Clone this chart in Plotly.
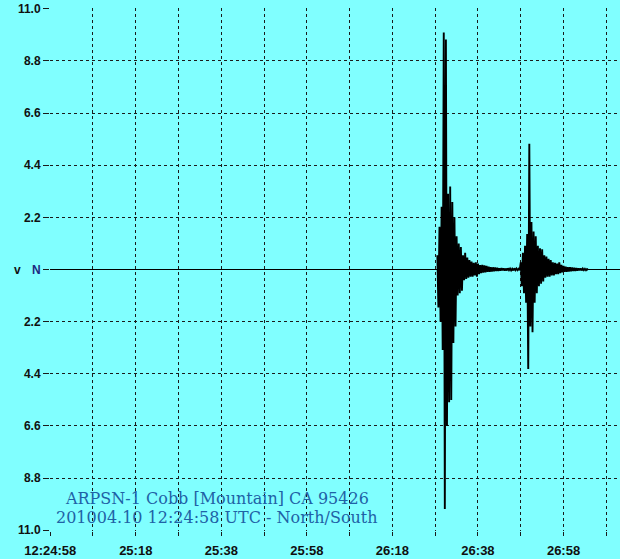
import plotly.graph_objects as go

# ---- data ----
# time axis in seconds after 12:24:58 UTC
x_tick_seconds = [0, 10, 20, 30, 40, 50, 60, 70, 80, 90, 100, 110, 120, 130]
x_tick_labels = ["12:24:58", "", "25:18", "", "25:38", "", "25:58", "", "26:18", "", "26:38", "", "26:58", ""]
y_tick_values = [11.0, 8.8, 6.6, 4.4, 2.2, 0.0, -2.2, -4.4, -6.6, -8.8, -11.0]
y_tick_labels = ["11.0", "8.8", "6.6", "4.4", "2.2", "<span style='color:#1c2a80'>N</span>",
                 "2.2", "4.4", "6.6", "8.8", "11.0"]

sample_interval = 0.25          # s between samples
record_end = 133.2              # s shown on the chart

# quiet trace before the first arrival (start, end) in seconds
quiet_before = [0.0, 90.25]
# first burst, samples starting at 90.5 s
burst1_start = 90.5
burst1_values = [0.6, -1.6, 1.8, -2.2, 2.65, -3.4, 10.0, -10.1, 9.7, -6.6,
                 3.2, -5.6, 3.5, -5.5, 2.85, -3.1, 2.2, -2.4, 1.4, -1.1,
                 1.1, -1.0, 0.95, -0.9, 0.6, -0.45, 0.7, -0.4, 0.5, -0.35,
                 0.4, -0.3, 0.33, -0.3, 0.28, -0.25, 0.3, -0.3, 0.25, -0.2,
                 0.18, -0.15, 0.2, -0.13, 0.17, -0.12, 0.15, -0.1, 0.12, -0.1,
                 0.1, -0.08, 0.09, -0.07, 0.08, -0.06, 0.07, -0.06, 0.05, -0.05,
                 0.06, -0.04, 0.05, -0.05, 0.04, -0.04, 0.05, -0.03, 0.04, -0.04,
                 0.03, -0.04, 0.05, -0.03, 0.04, -0.03, 0.03, -0.03]
# second burst, samples starting at 110.0 s
burst2_start = 110.0
burst2_values = [0.3, -0.7, 0.7, -1.0, 1.0, -1.4, 1.5, -4.2, 5.3, -2.4,
                 2.0, -2.65, 1.6, -1.4, 1.4, -1.0, 1.0, -0.7, 0.9, -0.6,
                 0.85, -0.5, 0.6, -0.35, 0.55, -0.3, 0.45, -0.3, 0.4, -0.25,
                 0.3, -0.25, 0.28, -0.2, 0.25, -0.2, 0.3, -0.15, 0.2, -0.12,
                 0.15, -0.1, 0.12, -0.1, 0.1, -0.08, 0.1, -0.07, 0.08, -0.06,
                 0.07, -0.06, 0.06, -0.05, 0.05, -0.04, 0.05, -0.04, 0.04, -0.03,
                 0.03, -0.03, 0.02, -0.02]

title_line1 = "ARPSN-1 Cobb [Mountain] CA 95426"
title_line2 = "201004.10 12:24:58 UTC - North/South"

# ---- assemble traces ----
b1_x = [burst1_start + i * sample_interval for i in range(len(burst1_values))]
b2_x = [burst2_start + i * sample_interval for i in range(len(burst2_values))]
burst_x = b1_x + b2_x
burst_y = burst1_values + burst2_values
base_x = [quiet_before[0], record_end]
base_y = [0.0, 0.0]

BG = "#80FFFF"
GRID = "#1a1a1a"

fig = go.Figure()
fig.add_trace(go.Scatter(x=base_x, y=base_y, mode="lines",
                         line=dict(color="black", width=1),
                         hoverinfo="skip", showlegend=False))
fig.add_trace(go.Scatter(x=burst_x, y=burst_y, mode="lines",
                         line=dict(color="black", width=1.9),
                         hoverinfo="skip", showlegend=False))

tick_font = dict(family="Liberation Sans", size=13, color="#101010", weight="bold")

fig.update_layout(
    width=620, height=559,
    margin=dict(l=50, r=0, t=8, b=28),
    paper_bgcolor=BG, plot_bgcolor=BG,
    showlegend=False,
    xaxis=dict(range=[-0.05, record_end], tickmode="array",
               tickvals=x_tick_seconds, ticktext=x_tick_labels,
               showgrid=True, gridcolor=GRID, griddash="3px,3px", gridwidth=1,
               zeroline=False, showline=False, automargin=False,
               ticks="outside", ticklen=4, tickcolor=GRID,
               tickfont=tick_font, ticklabelstandoff=3),
    yaxis=dict(range=[-11.03, 11.03], tickmode="array",
               tickvals=y_tick_values, ticktext=y_tick_labels,
               showgrid=True, gridcolor=GRID, griddash="3px,3px", gridwidth=1,
               zeroline=False, showline=False, automargin=False,
               ticks="outside", ticklen=6, tickcolor=GRID,
               tickfont=dict(family="Liberation Sans", size=12, color="#101010", weight="bold")),
    annotations=[
        dict(text="<b>v</b>", xref="paper", yref="y", x=-0.067, y=0,
             showarrow=False, font=dict(family="Liberation Sans", size=12, color="#101010")),
        dict(text=title_line1, xref="paper", yref="paper",
             x=(217 - 50) / 570, y=(531 - 498) / 523, xanchor="center", yanchor="middle",
             showarrow=False, font=dict(family="DejaVu Serif", size=16, color="#1f62a6")),
        dict(text=title_line2, xref="paper", yref="paper",
             x=(217 - 50) / 570, y=(531 - 517) / 523, xanchor="center", yanchor="middle",
             showarrow=False, font=dict(family="DejaVu Serif", size=16, color="#1f62a6")),
    ],
)

fig.write_html("out.html",
               config={"displayModeBar": False},
               post_script="document.body.style.margin='0';document.body.style.overflow='hidden';")
